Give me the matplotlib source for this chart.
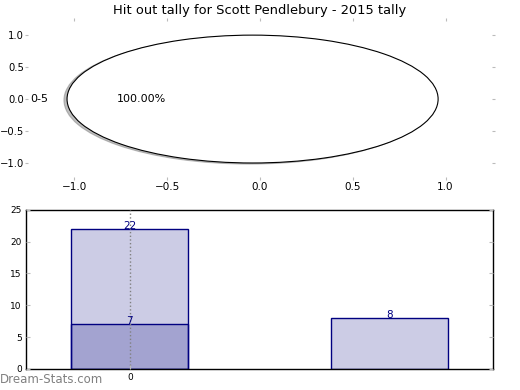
import matplotlib
matplotlib.use("Agg")
import matplotlib.pyplot as plt

# pie data
pie_labels = ["0-5"]
pie_sizes = [100.0]

# bar data
bar_x = [0, 1]
bar_totals = [22, 8]
overlay_x = [0]
overlay_vals = [7]
xtick_labels = ["0"]

fig = plt.figure(figsize=(5.2, 3.9), dpi=100)

# top: pie (not forced round, like the old plot)
ax1 = fig.add_axes([0.054, 0.546, 0.892, 0.40])
ax1.pie(pie_sizes, labels=pie_labels, autopct="%1.2f%%",
        shadow={"ox": -0.012, "oy": -0.012, "shade": 0.5}, center=(-0.04, 0),
        colors=["white"], wedgeprops={"edgecolor": "black", "linewidth": 0.8},
        textprops={"fontsize": 8}, frame=True)
ax1.set_aspect("auto")
ax1.set_xlim(-1.25, 1.25)
ax1.set_ylim(-1.22, 1.22)
ax1.set_xticks([-1.0, -0.5, 0.0, 0.5, 1.0])
ax1.set_yticks([-1.0, -0.5, 0.0, 0.5, 1.0])
for s in ax1.spines.values():
    s.set_visible(False)
ax1.tick_params(labelsize=7.5, length=2, color="#bbbbbb", top=True, right=True,
                direction="out", pad=1.5)
ax1.tick_params(axis="y", labelsize=7.2, pad=1)
ax1.set_title("Hit out tally for Scott Pendlebury - 2015 tally", fontsize=9.4, pad=5)

# bottom: bars
ax2 = fig.add_axes([0.05, 0.054, 0.898, 0.408])
ax2.bar(bar_x, bar_totals, width=0.45, color="navy", alpha=0.2, edgecolor="none")
ax2.bar(bar_x, bar_totals, width=0.45, facecolor="none", edgecolor="navy", linewidth=1)
ax2.bar(overlay_x, overlay_vals, width=0.45, color="navy", alpha=0.2, edgecolor="none")
ax2.bar(overlay_x, overlay_vals, width=0.45, facecolor="none", edgecolor="navy", linewidth=1)
for x, v in zip(bar_x, bar_totals):
    ax2.text(x, v, str(v), ha="center", va="baseline", color="navy", fontsize=7.5)
for x, v in zip(overlay_x, overlay_vals):
    ax2.text(x, v, str(v), ha="center", va="baseline", color="navy", fontsize=7.5)
ax2.set_xlim(-0.4, 1.4)
ax2.set_ylim(0, 25)
ax2.set_xticks([0])
ax2.set_xticklabels(xtick_labels)
ax2.set_yticks([0, 5, 10, 15, 20, 25])
ax2.xaxis.grid(True, linestyle=":", color="gray", linewidth=1)
ax2.set_axisbelow(False)
ax2.tick_params(labelsize=6.5, length=3, color="#bbbbbb", right=True,
                direction="in", pad=3)
for s in ax2.spines.values():
    s.set_linewidth(1)

fig.text(0.0, 0.026, "Dream-Stats.com", color="gray", fontsize=8.5, ha="left", va="center")

fig.savefig("out.png", dpi=100)
